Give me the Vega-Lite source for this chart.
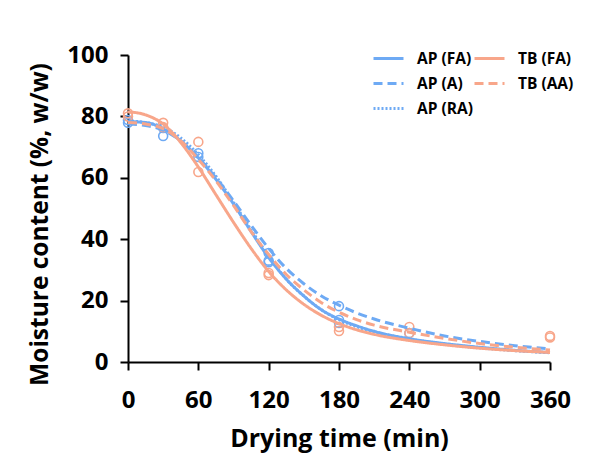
{
  "$schema": "https://vega.github.io/schema/vega-lite/v6.json",
  "autosize": {"type": "none"},
  "width": 422,
  "height": 307,
  "padding": {"left": 128, "top": 55, "right": 41, "bottom": 92},
  "background": "white",
  "config": {
    "view": {"stroke": null},
    "font": "Open Sans",
    "axis": {
      "grid": false,
      "domainColor": "black",
      "domainWidth": 2,
      "tickColor": "black",
      "tickWidth": 2,
      "tickSize": 8,
      "labelFont": "Open Sans",
      "labelFontWeight": "bold",
      "labelFontSize": 24,
      "labelColor": "black",
      "titleFont": "Open Sans",
      "titleFontWeight": "bold",
      "titleFontSize": 25,
      "titleColor": "black"
    }
  },
  "datasets": {
    "curves": [
      {"t": 0, "m": 78.3, "s": "AP (FA)"}, {"t": 15, "m": 78, "s": "AP (FA)"}, {"t": 30, "m": 76, "s": "AP (FA)"}, {"t": 45, "m": 72, "s": "AP (FA)"}, {"t": 60, "m": 66.5, "s": "AP (FA)"}, {"t": 75, "m": 59.5, "s": "AP (FA)"}, {"t": 90, "m": 51.5, "s": "AP (FA)"}, {"t": 105, "m": 42.5, "s": "AP (FA)"}, {"t": 120, "m": 34, "s": "AP (FA)"}, {"t": 135, "m": 27, "s": "AP (FA)"}, {"t": 150, "m": 21.5, "s": "AP (FA)"}, {"t": 165, "m": 17, "s": "AP (FA)"}, {"t": 180, "m": 14, "s": "AP (FA)"}, {"t": 195, "m": 11.8, "s": "AP (FA)"}, {"t": 210, "m": 10, "s": "AP (FA)"}, {"t": 240, "m": 7.6, "s": "AP (FA)"}, {"t": 270, "m": 6, "s": "AP (FA)"}, {"t": 300, "m": 4.8, "s": "AP (FA)"}, {"t": 330, "m": 3.8, "s": "AP (FA)"}, {"t": 360, "m": 3.1, "s": "AP (FA)"},
      {"t": 0, "m": 77.5, "s": "AP (A)"}, {"t": 15, "m": 77, "s": "AP (A)"}, {"t": 30, "m": 75.5, "s": "AP (A)"}, {"t": 45, "m": 72, "s": "AP (A)"}, {"t": 60, "m": 66.5, "s": "AP (A)"}, {"t": 75, "m": 60, "s": "AP (A)"}, {"t": 90, "m": 52.5, "s": "AP (A)"}, {"t": 105, "m": 44.5, "s": "AP (A)"}, {"t": 120, "m": 37, "s": "AP (A)"}, {"t": 135, "m": 30.5, "s": "AP (A)"}, {"t": 150, "m": 25.5, "s": "AP (A)"}, {"t": 165, "m": 21.5, "s": "AP (A)"}, {"t": 180, "m": 18.5, "s": "AP (A)"}, {"t": 195, "m": 16, "s": "AP (A)"}, {"t": 210, "m": 14, "s": "AP (A)"}, {"t": 240, "m": 11, "s": "AP (A)"}, {"t": 270, "m": 8.5, "s": "AP (A)"}, {"t": 300, "m": 6.7, "s": "AP (A)"}, {"t": 330, "m": 5.3, "s": "AP (A)"}, {"t": 360, "m": 4.3, "s": "AP (A)"},
      {"t": 0, "m": 78.5, "s": "AP (RA)"}, {"t": 15, "m": 78, "s": "AP (RA)"}, {"t": 30, "m": 76.5, "s": "AP (RA)"}, {"t": 45, "m": 73, "s": "AP (RA)"}, {"t": 60, "m": 67.5, "s": "AP (RA)"}, {"t": 75, "m": 60.5, "s": "AP (RA)"}, {"t": 90, "m": 52, "s": "AP (RA)"}, {"t": 105, "m": 43, "s": "AP (RA)"}, {"t": 120, "m": 34.5, "s": "AP (RA)"}, {"t": 135, "m": 27, "s": "AP (RA)"}, {"t": 150, "m": 21.5, "s": "AP (RA)"}, {"t": 165, "m": 17, "s": "AP (RA)"}, {"t": 180, "m": 13.8, "s": "AP (RA)"}, {"t": 195, "m": 11.5, "s": "AP (RA)"}, {"t": 210, "m": 9.8, "s": "AP (RA)"}, {"t": 240, "m": 7.4, "s": "AP (RA)"}, {"t": 270, "m": 5.8, "s": "AP (RA)"}, {"t": 300, "m": 4.6, "s": "AP (RA)"}, {"t": 330, "m": 3.7, "s": "AP (RA)"}, {"t": 360, "m": 3.0, "s": "AP (RA)"},
      {"t": 0, "m": 81.5, "s": "TB (FA)"}, {"t": 15, "m": 80.5, "s": "TB (FA)"}, {"t": 30, "m": 77.5, "s": "TB (FA)"}, {"t": 45, "m": 71.5, "s": "TB (FA)"}, {"t": 60, "m": 63.5, "s": "TB (FA)"}, {"t": 75, "m": 54.5, "s": "TB (FA)"}, {"t": 90, "m": 45.5, "s": "TB (FA)"}, {"t": 105, "m": 37, "s": "TB (FA)"}, {"t": 120, "m": 29.5, "s": "TB (FA)"}, {"t": 135, "m": 23.5, "s": "TB (FA)"}, {"t": 150, "m": 18.8, "s": "TB (FA)"}, {"t": 165, "m": 15.2, "s": "TB (FA)"}, {"t": 180, "m": 12.5, "s": "TB (FA)"}, {"t": 195, "m": 10.5, "s": "TB (FA)"}, {"t": 210, "m": 9, "s": "TB (FA)"}, {"t": 240, "m": 7, "s": "TB (FA)"}, {"t": 270, "m": 5.6, "s": "TB (FA)"}, {"t": 300, "m": 4.5, "s": "TB (FA)"}, {"t": 330, "m": 3.7, "s": "TB (FA)"}, {"t": 360, "m": 3.1, "s": "TB (FA)"},
      {"t": 0, "m": 78, "s": "TB (AA)"}, {"t": 15, "m": 77.5, "s": "TB (AA)"}, {"t": 30, "m": 76, "s": "TB (AA)"}, {"t": 45, "m": 72, "s": "TB (AA)"}, {"t": 60, "m": 66, "s": "TB (AA)"}, {"t": 75, "m": 59, "s": "TB (AA)"}, {"t": 90, "m": 51, "s": "TB (AA)"}, {"t": 105, "m": 42.5, "s": "TB (AA)"}, {"t": 120, "m": 35, "s": "TB (AA)"}, {"t": 135, "m": 28.5, "s": "TB (AA)"}, {"t": 150, "m": 23.5, "s": "TB (AA)"}, {"t": 165, "m": 19.3, "s": "TB (AA)"}, {"t": 180, "m": 16.2, "s": "TB (AA)"}, {"t": 195, "m": 13.8, "s": "TB (AA)"}, {"t": 210, "m": 12, "s": "TB (AA)"}, {"t": 240, "m": 9.7, "s": "TB (AA)"}, {"t": 270, "m": 7.7, "s": "TB (AA)"}, {"t": 300, "m": 6.0, "s": "TB (AA)"}, {"t": 330, "m": 4.8, "s": "TB (AA)"}, {"t": 360, "m": 3.9, "s": "TB (AA)"}
    ],
    "points": [
      {"t": 0, "m": 78.8, "g": "AP"}, {"t": 0, "m": 77.9, "g": "AP"}, {"t": 30, "m": 73.6, "g": "AP"}, {"t": 30, "m": 76.2, "g": "AP"},
      {"t": 60, "m": 68, "g": "AP"}, {"t": 60, "m": 66.8, "g": "AP"},
      {"t": 120, "m": 35.5, "g": "AP"}, {"t": 120, "m": 33, "g": "AP"}, {"t": 120, "m": 32.5, "g": "AP"},
      {"t": 180, "m": 18.2, "g": "AP"}, {"t": 180, "m": 13.7, "g": "AP"}, {"t": 180, "m": 12.7, "g": "AP"},
      {"t": 240, "m": 9.4, "g": "AP"},
      {"t": 0, "m": 81, "g": "TB"}, {"t": 0, "m": 80, "g": "TB"}, {"t": 30, "m": 77.9, "g": "TB"}, {"t": 30, "m": 76.5, "g": "TB"},
      {"t": 60, "m": 71.7, "g": "TB"}, {"t": 60, "m": 61.9, "g": "TB"},
      {"t": 120, "m": 29, "g": "TB"}, {"t": 120, "m": 28.3, "g": "TB"},
      {"t": 180, "m": 11.4, "g": "TB"}, {"t": 180, "m": 10.1, "g": "TB"},
      {"t": 240, "m": 11.4, "g": "TB"}, {"t": 240, "m": 9.4, "g": "TB"},
      {"t": 360, "m": 8.5, "g": "TB"}, {"t": 360, "m": 8, "g": "TB"}
    ]
  },
  "encoding": {
    "x": {"field": "t", "type": "quantitative", "scale": {"domain": [0, 360], "nice": false, "zero": false}, "axis": {"values": [0, 60, 120, 180, 240, 300, 360], "title": "Drying time (min)", "labelPadding": 18, "titlePadding": 14, "labelFlush": false, "labelOverlap": false}},
    "y": {"field": "m", "type": "quantitative", "scale": {"domain": [0, 100], "nice": false}, "axis": {"values": [0, 20, 40, 60, 80, 100], "title": "Moisture content (%, w/w)", "titleFontSize": 24.5, "labelPadding": 12, "titlePadding": 14, "titleY": 169}}
  },
  "layer": [
    {
      "data": {"name": "points"},
      "mark": {"type": "point", "shape": "circle", "filled": false, "size": 80, "strokeWidth": 1.6, "opacity": 1},
      "encoding": {
        "stroke": {"field": "g", "type": "nominal", "scale": {"domain": ["AP", "TB"], "range": ["#6eaaf4", "#f8a68a"]}, "legend": null}
      }
    },
    {
      "data": {"name": "curves"},
      "mark": {"type": "line", "strokeWidth": 3, "interpolate": "monotone"},
      "encoding": {
        "color": {"field": "s", "type": "nominal",
          "scale": {"domain": ["AP (FA)", "AP (A)", "AP (RA)", "TB (FA)", "TB (AA)"], "range": ["#6eaaf4", "#6eaaf4", "#6eaaf4", "#f8a68a", "#f8a68a"]},
          "legend": {"title": null, "orient": "none", "legendX": 244, "legendY": -13, "columns": 2, "columnPadding": -16, "rowPadding": -10, "symbolType": "stroke", "symbolSize": 900, "symbolStrokeWidth": 3, "labelFont": "Open Sans", "labelFontWeight": "bold", "labelFontSize": 15.5, "labelColor": "black", "labelOffset": 12}},
        "strokeDash": {"field": "s", "type": "nominal",
          "scale": {"domain": ["AP (FA)", "AP (A)", "AP (RA)", "TB (FA)", "TB (AA)"], "range": [[1, 0], [9, 5], [2, 2], [1, 0], [9, 5]]}}
      }
    }
  ]
}
